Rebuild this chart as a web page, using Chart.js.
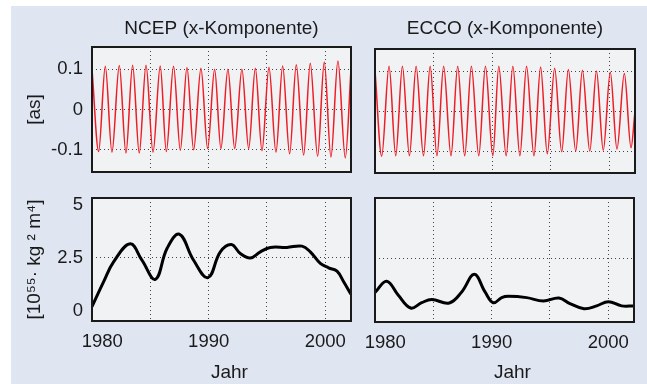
<!DOCTYPE html>
<html>
<head>
<meta charset="utf-8">
<script src="https://cdn.jsdelivr.net/npm/chart.js@4"></script>
<style>
  html, body { margin: 0; padding: 0; }
  body { width: 647px; height: 384px; background: #fff; position: relative; overflow: hidden; }
  #bg { position: absolute; left: 11px; top: 6px; right: 0; bottom: 0; background: #dfe6f2; }
  .panel { position: absolute; }
</style>
</head>
<body>
<div id="bg"></div>
<div class="panel" style="left:0;top:0;width:360px;height:180px"><canvas id="ncepX"></canvas></div>
<div class="panel" style="left:340px;top:0;width:307px;height:181px"><canvas id="eccoX"></canvas></div>
<div class="panel" style="left:0;top:185px;width:360px;height:199px"><canvas id="ncepI"></canvas></div>
<div class="panel" style="left:340px;top:185px;width:307px;height:199px"><canvas id="eccoI"></canvas></div>
<script>
// x axis (years)
const xTickValues = [1980, 1985, 1990, 1995, 2000];
const xLabelYears = [1980, 1990, 2000];

// top row: x-Komponente [as]
const wobbleTicks = [-0.1, 0, 0.1];
const wobbleTickLabels = ['-0.1', '0', '0.1'];

const ncepXYears = [1980.0, 1980.57, 1981.14, 1981.71, 1982.34, 1982.91, 1983.48, 1984.05, 1984.63, 1985.23,
  1985.85, 1986.37, 1986.99, 1987.57, 1988.14, 1988.71, 1989.34, 1989.91, 1990.51, 1991.05,
  1991.65, 1992.23, 1992.85, 1993.43, 1994.0, 1994.57, 1995.17, 1995.77, 1996.34, 1996.94,
  1997.51, 1998.14, 1998.71, 1999.34, 1999.91, 2000.48, 2001.08, 2001.71, 2002.2];
const ncepXValues = [0.100, -0.104, 0.107, -0.106, 0.109, -0.108, 0.110, -0.108, 0.110, -0.106,
  0.108, -0.104, 0.107, -0.101, 0.104, -0.100, 0.102, -0.097, 0.100, -0.097,
  0.100, -0.097, 0.100, -0.097, 0.102, -0.102, 0.105, -0.106, 0.108, -0.110,
  0.111, -0.113, 0.115, -0.116, 0.118, -0.118, 0.120, -0.120, 0.100];

const eccoXYears = [1980.0, 1980.57, 1981.2, 1981.77, 1982.34, 1982.94, 1983.51, 1984.14, 1984.71, 1985.29,
  1985.86, 1986.49, 1987.06, 1987.66, 1988.23, 1988.86, 1989.43, 1990.06, 1990.57, 1991.2,
  1991.77, 1992.37, 1992.94, 1993.57, 1994.14, 1994.71, 1995.34, 1995.94, 1996.51, 1997.14,
  1997.71, 1998.34, 1998.91, 1999.49, 2000.09, 2000.66, 2001.29, 2001.86, 2002.2];
const eccoXValues = [0.102, -0.113, 0.112, -0.112, 0.112, -0.112, 0.112, -0.112, 0.112, -0.112,
  0.112, -0.112, 0.112, -0.112, 0.112, -0.112, 0.112, -0.112, 0.112, -0.112,
  0.112, -0.112, 0.112, -0.112, 0.110, -0.107, 0.107, -0.102, 0.104, -0.100,
  0.102, -0.100, 0.100, -0.098, 0.097, -0.095, 0.094, -0.092, 0.000];

// bottom row: [10^55 kg^2 m^4]
const inertiaTicks = [0, 2.5, 5];
const inertiaTickLabels = ['0', '2.5', '5'];
const inertiaGrid = [2.5];

const ncepIYears = [1980.0, 1981.0, 1981.85, 1983.28, 1984.28, 1985.43, 1986.43, 1987.48, 1988.71, 1989.94,
  1991.0, 1991.94, 1992.71, 1993.57, 1994.43, 1995.28, 1996.71, 1998.0, 1998.71, 1999.57,
  2000.28, 2001.0, 2001.57, 2002.2];
const ncepIValues = [0.18, 1.37, 2.31, 3.17, 2.39, 1.48, 2.95, 3.63, 2.39, 1.56,
  2.79, 3.14, 2.71, 2.5, 2.79, 3.0, 3.0, 3.06, 2.79, 2.24,
  2.03, 1.87, 1.37, 0.77];

const eccoIYears = [1980.0, 1981.0, 1982.0, 1983.06, 1984.0, 1984.86, 1986.37, 1987.43, 1988.51, 1989.43,
  1990.14, 1990.86, 1991.43, 1993.0, 1994.43, 1995.77, 1996.71, 1997.91, 1999.0, 2000.0,
  2001.14, 2002.2];
const eccoIValues = [0.89, 1.42, 0.76, 0.16, 0.41, 0.56, 0.40, 0.92, 1.75, 0.92,
  0.41, 0.65, 0.71, 0.65, 0.49, 0.63, 0.37, 0.13, 0.26, 0.46,
  0.26, 0.26];

const FONT = "'Liberation Sans', Arial, sans-serif";
const TEXT = '#1a1a1a';
const GRID = '#444';

// fix axis box size so all four plot areas line up
function fixedBox(w, h) {
  return scale => {
    if (w != null) scale.width = w;
    if (h != null) scale.height = h;
    scale.paddingLeft = scale.paddingRight = scale.paddingTop = scale.paddingBottom = 0;
  };
}

const framePlugin = {
  id: 'frame',
  beforeDraw(chart) {
    const {ctx, chartArea: a} = chart;
    ctx.save();
    ctx.fillStyle = '#f1f2f4';
    ctx.fillRect(a.left, a.top, a.width, a.height);
    ctx.restore();
  },
  afterDraw(chart) {
    const {ctx, chartArea: a} = chart;
    ctx.save();
    ctx.strokeStyle = '#1a1a1a';
    ctx.lineWidth = 2;
    ctx.strokeRect(a.left, a.top, a.width, a.height);
    ctx.restore();
  }
};

function makeChart(id, cfg) {
  const points = cfg.years.map((x, i) => ({x: x, y: cfg.values[i]}));
  new Chart(document.getElementById(id), {
    type: 'line',
    data: {
      datasets: [{
        data: points,
        borderColor: cfg.color,
        borderWidth: cfg.lineWidth,
        pointRadius: 0,
        fill: false,
        cubicInterpolationMode: cfg.smooth,
        tension: 0.4
      }]
    },
    options: {
      responsive: true,
      maintainAspectRatio: false,
      animation: false,
      layout: {padding: cfg.padding},
      plugins: {
        legend: {display: false},
        tooltip: {enabled: false},
        title: {
          display: !!cfg.title,
          text: cfg.title || '',
          fullSize: false,
          color: TEXT,
          font: {family: FONT, size: 19, weight: 'normal'},
          padding: cfg.titlePadding || 0
        }
      },
      scales: {
        x: {
          type: 'linear',
          min: 1980,
          max: 2002.2,
          afterBuildTicks: s => { s.ticks = xTickValues.map(v => ({value: v})); },
          afterFit: fixedBox(null, cfg.xHeight),
          border: {display: false, dash: [1, 3]},
          grid: {
            drawTicks: false,
            lineWidth: 1,
            color: c => (c.tick && c.tick.value > 1980) ? GRID : 'transparent'
          },
          ticks: {
            display: cfg.xLabels,
            color: TEXT,
            font: {family: FONT, size: 18.5},
            padding: 10,
            maxRotation: 0,
            autoSkip: false,
            // nudge the first label inward like the original layout
            callback: v => xLabelYears.includes(v) ? (v === 1980 ? '    1980' : String(v)) : ''
          },
          title: {
            display: cfg.xLabels,
            text: '   Jahr',
            color: TEXT,
            font: {family: FONT, size: 19},
            padding: {top: 0, bottom: 0}
          }
        },
        y: {
          min: cfg.yMin,
          max: cfg.yMax,
          afterBuildTicks: s => { s.ticks = cfg.yTicks.map(v => ({value: v})); },
          afterFit: fixedBox(cfg.yWidth, null),
          border: {display: false, dash: [1, 3]},
          grid: {
            drawTicks: false,
            lineWidth: 1,
            color: c => (c.tick && cfg.yGrid.includes(c.tick.value)) ? GRID : 'transparent'
          },
          ticks: {
            display: !!cfg.yTitle,
            color: TEXT,
            font: {family: FONT, size: 18.5},
            padding: 9,
            callback: (v, i) => cfg.yTickLabels[i]
          },
          title: {
            display: !!cfg.yTitle,
            text: cfg.yTitle || '',
            color: TEXT,
            font: {family: FONT, size: 19},
            padding: {top: 23, bottom: 0}
          }
        }
      }
    },
    plugins: [framePlugin]
  });
}

const RED = '#ee1c25';

makeChart('ncepX', {
  years: ncepXYears, values: ncepXValues, color: RED, lineWidth: 1.5, smooth: 'monotone',
  title: 'NCEP (x-Komponente)', titlePadding: {top: 17, bottom: 7.2},
  padding: {top: 0, right: 9, bottom: 0, left: 0},
  xHeight: 8, xLabels: false,
  yMin: -0.155, yMax: 0.155, yTicks: wobbleTicks, yTickLabels: wobbleTickLabels, yGrid: wobbleTicks,
  yWidth: 92, yTitle: '[as]'
});

makeChart('eccoX', {
  years: eccoXYears, values: eccoXValues, color: RED, lineWidth: 1.5, smooth: 'monotone',
  title: 'ECCO (x-Komponente)', titlePadding: {top: 17, bottom: 9.2},
  padding: {top: 0, right: 12, bottom: 0, left: 0},
  xHeight: 8, xLabels: false,
  yMin: -0.155, yMax: 0.155, yTicks: wobbleTicks, yTickLabels: wobbleTickLabels, yGrid: wobbleTicks,
  yWidth: 35, yTitle: null
});

makeChart('ncepI', {
  years: ncepIYears, values: ncepIValues, color: '#000', lineWidth: 3, smooth: 'default',
  title: null,
  padding: {top: 13, right: 9, bottom: 0, left: 0},
  xHeight: 63, xLabels: true,
  yMin: -0.5, yMax: 5.35, yTicks: inertiaTicks, yTickLabels: inertiaTickLabels, yGrid: inertiaGrid,
  yWidth: 92, yTitle: '[10\u2075\u2075\u00b7 kg \u00b2 m\u2074]'
});

makeChart('eccoI', {
  years: eccoIYears, values: eccoIValues, color: '#000', lineWidth: 3, smooth: 'default',
  title: null,
  padding: {top: 13, right: 13, bottom: 0, left: 0},
  xHeight: 62, xLabels: true,
  yMin: -0.5, yMax: 5.35, yTicks: inertiaTicks, yTickLabels: inertiaTickLabels, yGrid: inertiaGrid,
  yWidth: 35, yTitle: null
});
</script>
</body>
</html>
